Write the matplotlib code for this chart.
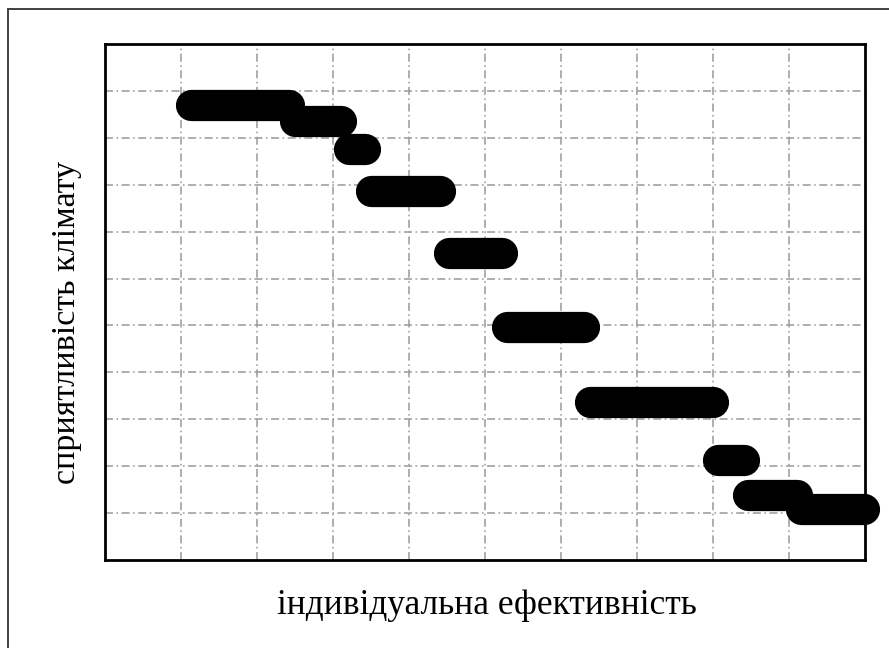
import matplotlib
matplotlib.use("Agg")
import matplotlib.pyplot as plt
from matplotlib.lines import Line2D

# Segments: climate favourability level vs. range of individual efficiency
bar_level = [9.71, 9.36, 8.76, 7.86, 6.55, 4.96, 3.36, 2.14, 1.39, 1.08]
bar_start = [1.13, 2.50, 3.21, 3.50, 4.53, 5.29, 6.38, 8.07, 8.46, 9.16]
bar_end   = [2.42, 3.11, 3.42, 4.41, 5.22, 6.30, 8.00, 8.41, 9.11, 9.99]

x_grid = list(range(1, 10))
y_grid = list(range(1, 11))

x_label = "індивідуальна ефективність"
y_label = "сприятливість клімату"

W, H = 889, 648
fig = plt.figure(figsize=(W / 100, H / 100), dpi=100)
fig.patch.set_facecolor("white")

# outer frame (left and top edges)
frame_kw = dict(color="#404040", lw=1.4, transform=fig.transFigure)
fig.add_artist(Line2D([7.5 / W, 7.5 / W], [0, 1 - 9 / H], **frame_kw))
fig.add_artist(Line2D([7.5 / W, 1], [1 - 9 / H, 1 - 9 / H], **frame_kw))

ax = fig.add_axes([105 / W, (H - 560) / H, 760 / W, 516 / H])
ax.set_xlim(0, 10)
ax.set_ylim(0, 11)
ax.set_xticks(x_grid)
ax.set_yticks(y_grid)
ax.tick_params(length=0, labelbottom=False, labelleft=False)
for sp in ax.spines.values():
    sp.set_linewidth(2.0)
    sp.set_color("black")

ax.set_axisbelow(True)
ax.grid(True, color="#9c9c9c", linewidth=1.15, linestyle=(0, (5, 2.2, 1, 2.2)))

for lvl, x0, x1 in zip(bar_level, bar_start, bar_end):
    ax.plot([x0, x1], [lvl, lvl], color="black", lw=22.5,
            solid_capstyle="round", clip_on=False, zorder=3)

serif = ["Liberation Serif", "DejaVu Serif"]
fig.text(487 / W, 1 - 614 / H, x_label, family=serif, fontsize=25.5,
         ha="center", va="baseline")
fig.text(75 / W, 1 - 323 / H, y_label, family=serif, fontsize=24.5,
         rotation=90, rotation_mode="anchor", ha="center", va="baseline")

fig.savefig("out.png", dpi=100, facecolor="white")
